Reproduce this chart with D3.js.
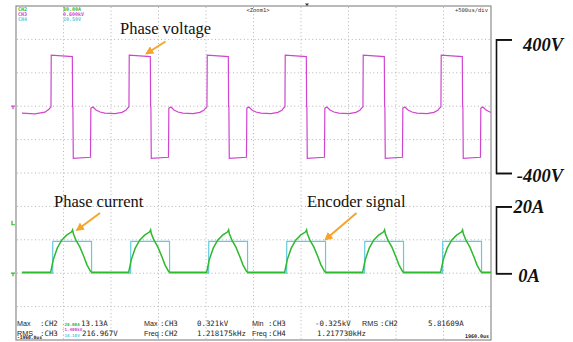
<!DOCTYPE html>
<html>
<head>
<meta charset="utf-8">
<script src="https://cdn.jsdelivr.net/npm/d3@7"></script>
<style>
  body { margin: 0; background: #fff; }
  svg { display: block; }
</style>
</head>
<body>
<svg id="chart" width="573" height="342"></svg>
<script>
// 500us/div, 10 divisions across the screen
const timeTicks = d3.range(0, 5001, 500);
const gridDivs = d3.range(-4, 5);

// rising edges of the phase voltage (us)
const cycleStarts = [368, 1189, 2010, 2831, 3652, 4473];

// phase voltage (V): lead-in before first edge, then one cycle relative to its edge
const voltageLead = [[63, -41], [200, -46], [305, -36], [347, -18], [365, -6]];
const voltageCycle = [[0, -5], [3, 306], [225, 297], [228, -2], [231, -6], [235, -312], [416, -306],
  [420, -12], [442, -5], [474, -23], [516, -35], [568, -41], [674, -44], [747, -37], [789, -24], [811, -9]];

// phase current (A)
const currentLead = [[63, 0.3], [365, 0.3]];
const currentCycle = [[-3, 0.3], [24, 4.0], [66, 7.5], [113, 9.9], [165, 11.4], [218, 12.4], [228, 13.0],
  [236, 11.8], [263, 9.9], [305, 7.8], [347, 4.9], [379, 2.5], [418, 0.45], [432, 0.3], [815, 0.3]];

// encoder signal (V)
const encoderLead = [[63, 0], [380, 0]];
const encoderCycle = [[18, 0], [19, 4.75], [427, 4.75], [428, 0], [815, 0]];

const voltTicks = [400, -400];
const voltLabels = ["400V", "-400V"];
const ampTicks = [20, 0];
const ampLabels = ["20A", "0A"];

const channelInfo = [["CH2", "80.00A"], ["CH3", "0.600kV"], ["CH4", "20.50V"]];
const measureTop = ["Max", ":CH2", "13.13A", "Max", ":CH3", "0.321kV", "Min", ":CH3", "-0.325kV", "RMS", ":CH2", "5.81609A"];
const measureBottom = ["RMS", ":CH3", "216.967V", "Freq", ":CH2", "1.218175kHz", "Freq", ":CH4", "1.217730kHz"];
const offsetLabels = ["-20.00A", "-1.400kV", "-10.10V"];
const timeLabels = ["-1960.0us", "1960.0us"];
const annotations = ["Phase voltage", "Phase current", "Encoder signal"];

const colV = "#cf45cf", colI = "#2fb92f", colE = "#62cade", orange = "#f4a52c";

const svg = d3.select('#chart');

const x = d3.scaleLinear().domain([0, 5000]).range([16, 491]);
const gridY = d3.scaleLinear().domain([-5, 5]).range([340, 6]);
const yV = d3.scaleLinear().domain([-400, 400]).range([gridY(0), gridY(4)]);
const yI = d3.scaleLinear().domain([0, 20]).range([gridY(-3), gridY(-1)]);
const yE = d3.scaleLinear().domain([0, 5]).range([gridY(-3), gridY(-2)]);

function build(lead, cycle) {
  let pts = lead.slice();
  cycleStarts.forEach(s => cycle.forEach(p => pts.push([s + p[0], p[1]])));
  return pts;
}

// grid
const grid = svg.append('g').attr('stroke', '#b4b4b4').attr('stroke-dasharray', '1,2.6');
grid.selectAll('.vg').data(timeTicks.slice(1, -1)).enter().append('line')
  .attr('x1', d => x(d)).attr('x2', d => x(d)).attr('y1', 7).attr('y2', 339);
grid.selectAll('.hg').data(gridDivs).enter().append('line')
  .attr('x1', 17).attr('x2', 490).attr('y1', d => gridY(d)).attr('y2', d => gridY(d));

// frame
svg.append('rect').attr('x', 16).attr('y', 6).attr('width', 475).attr('height', 334)
  .attr('fill', 'none').attr('stroke', '#8c8c8c').attr('stroke-width', 1.2);

svg.append('clipPath').attr('id', 'scr').append('rect')
  .attr('x', 16.5).attr('y', 6).attr('width', 474.5).attr('height', 334);

const waves = svg.append('g').attr('clip-path', 'url(#scr)').attr('fill', 'none');
const line = yScale => d3.line().x(d => x(d[0])).y(d => yScale(d[1]));

waves.append('path').datum(build(encoderLead, encoderCycle)).attr('d', line(yE))
  .attr('stroke', colE).attr('stroke-width', 1.2);
waves.append('path').datum(build(currentLead, currentCycle)).attr('d', line(yI))
  .attr('stroke', colI).attr('stroke-width', 1.5);
waves.append('path').datum(build(voltageLead, voltageCycle)).attr('d', line(yV))
  .attr('stroke', colV).attr('stroke-width', 1.2);

// channel markers on the left
svg.append('path').attr('d', `M11,${yV(0)}h4M13,${yV(0)}v3`).attr('stroke', colV).attr('stroke-width', 1.2);
svg.append('path').attr('d', `M12,${yI(15.7)}v4h3`).attr('stroke', colI).attr('stroke-width', 1.2).attr('fill', 'none');
svg.append('path').attr('d', `M11,${yI(0)}h4M13,${yI(0)}v3`).attr('stroke', colI).attr('stroke-width', 1.2);
// trigger position mark
svg.append('path').attr('d', 'M305,3.5h4l-2,2.5z').attr('fill', '#333');

// scope header text
const mono = "'DejaVu Sans Mono', monospace";
const sans = "'Liberation Sans', Arial, sans-serif";
const chCols = [colI, colV, colE];
channelInfo.forEach((c, i) => {
  svg.append('text').attr('x', 18).attr('y', 11 + i * 5).text(c[0])
    .attr('fill', chCols[i]).style('font', `bold 5px ${mono}`);
  svg.append('text').attr('x', 63).attr('y', 11 + i * 5).text(c[1])
    .attr('fill', chCols[i]).style('font', `bold 5px ${mono}`);
});
svg.append('text').attr('x', 258).attr('y', 12).attr('text-anchor', 'middle').text('<Zoom1>')
  .attr('fill', '#333').style('font', `5.5px ${mono}`);
svg.append('text').attr('x', 488).attr('y', 12).attr('text-anchor', 'end').text('+500us/div')
  .attr('fill', '#333').style('font', `5.5px ${mono}`);

// measurement rows
const topX = [17, 40, 81, 144, 160, 197, 252, 268, 315, 362, 380, 428];
const botX = [17, 40, 82, 144, 160, 197, 252, 268, 317];
function measure(t, xx, yy) {
  const word = /^[A-Za-z]+$/.test(t);
  svg.append('text').attr('x', xx).attr('y', yy).text(t)
    .attr('fill', '#222').style('font', word ? `7.2px ${sans}` : `7.4px ${mono}`);
}
measureTop.forEach((t, i) => measure(t, topX[i], 326));
measureBottom.forEach((t, i) => measure(t, botX[i], 336));
const offY = [326, 330.5, 336.5];
offsetLabels.forEach((t, i) => svg.append('text').attr('x', 62).attr('y', offY[i]).text(t)
  .attr('fill', chCols[i]).style('font', `bold 4.2px ${mono}`));
svg.append('text').attr('x', 17).attr('y', 339).text(timeLabels[0])
  .attr('fill', '#222').style('font', `bold 4.6px ${mono}`);
svg.append('text').attr('x', 489).attr('y', 338).attr('text-anchor', 'end').text(timeLabels[1])
  .attr('fill', '#222').style('font', `bold 5px ${mono}`);

// annotations with arrows
const serif = "'Liberation Serif', 'Times New Roman', serif";
svg.append('defs').append('marker').attr('id', 'head').attr('viewBox', '0 0 10 10')
  .attr('refX', 8).attr('refY', 5).attr('markerWidth', 4.2).attr('markerHeight', 4.2)
  .attr('orient', 'auto').append('path').attr('d', 'M0,0L10,5L0,10z').attr('fill', orange);
const annPos = [[120, 33.5], [54, 206.5], [307, 206.5]];
const arrows = [[165.5, 41.5, 146.5, 53.5], [100, 213, 77, 230], [356.5, 213, 325.5, 239.5]];
annotations.forEach((t, i) => {
  svg.append('text').attr('x', annPos[i][0]).attr('y', annPos[i][1]).text(t)
    .attr('fill', '#111').style('font', `16.5px ${serif}`);
  const a = arrows[i];
  svg.append('line').attr('x1', a[0]).attr('y1', a[1]).attr('x2', a[2]).attr('y2', a[3])
    .attr('stroke', orange).attr('stroke-width', 2).attr('marker-end', 'url(#head)');
});

// right brackets as axes
function bracket(scale, ticks, labels, anchor, lx, dys) {
  const g = svg.append('g').attr('transform', 'translate(496,0)')
    .call(d3.axisRight(scale).tickValues(ticks).tickSize(16).tickFormat((d, i) => labels[i]));
  g.select('.domain').attr('stroke', '#111').attr('stroke-width', 1.6);
  g.selectAll('.tick line').attr('stroke', '#111').attr('stroke-width', 1.6);
  g.selectAll('.tick text').attr('fill', '#111').attr('text-anchor', anchor).attr('x', lx)
    .attr('dy', (d, i) => dys[i]).style('font', `italic bold 18.5px ${serif}`);
}
bracket(yV, voltTicks, voltLabels, 'end', 67, [10.7, 8]);
bracket(yI, ampTicks, ampLabels, 'middle', 33, [6, 8.5]);
</script>
</body>
</html>
